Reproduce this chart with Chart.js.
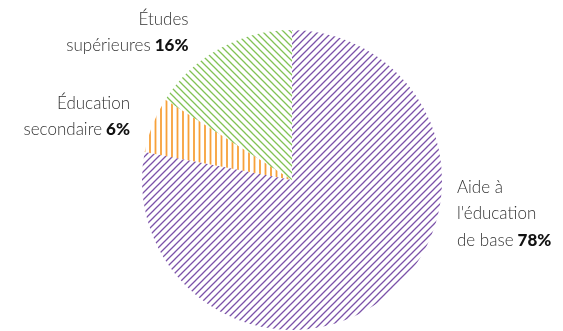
<!DOCTYPE html>
<html>
<head>
<meta charset="utf-8">
<script src="https://cdn.jsdelivr.net/npm/chart.js@4.4.1/dist/chart.umd.min.js"></script>
<style>
    html, body { margin: 0; padding: 0; background: #fff; }
    #wrap { width: 563px; height: 331px; }
</style>
</head>
<body>
<div id="wrap"><canvas id="pieChart"></canvas></div>
<script>
// data
const labelLines = [
    ['Aide à', "l'éducation", 'de base'],
    ['Éducation', 'secondaire'],
    ['Études', 'supérieures']
];
const shares = [78, 6, 16];
const hatchColors = ['#7b52a9', '#f7a13a', '#82c255'];

// hatch tiles
const makePattern = (kind, color) => {
    const c = document.createElement('canvas');
    const s = kind === 'vertical' ? 11 : 7;
    c.width = s;
    c.height = s;
    const g = c.getContext('2d');
    g.strokeStyle = color;
    g.lineCap = 'square';
    if (kind === 'vertical') {
        g.lineWidth = 1.8;
        g.beginPath();
        g.moveTo(1.5, 0); g.lineTo(1.5, s);
        g.moveTo(7, 0); g.lineTo(7, s);
        g.stroke();
    } else {
        g.lineWidth = 1.3;
        g.beginPath();
        if (kind === 'up') {
            g.moveTo(0, s); g.lineTo(s, 0);
            g.moveTo(-1, 1); g.lineTo(1, -1);
            g.moveTo(s - 1, s + 1); g.lineTo(s + 1, s - 1);
        } else {
            g.moveTo(0, 0); g.lineTo(s, s);
            g.moveTo(-1, s - 1); g.lineTo(1, s + 1);
            g.moveTo(s - 1, -1); g.lineTo(s + 1, 1);
        }
        g.stroke();
    }
    return g.createPattern(c, 'repeat');
};

const patterns = [
    makePattern('up', hatchColors[0]),
    makePattern('vertical', hatchColors[1]),
    makePattern('down', hatchColors[2])
];

// label placement around the pie (relative to centre and radius)
const labelSpots = [
    { align: 'left', dx: 1.1, dy: 0.05 },
    { align: 'right', dx: -1.08, dy: -0.51 },
    { align: 'right', dx: -0.69, dy: -1.07 }
];

const sliceLabels = {
    id: 'sliceLabels',
    afterDraw(chart) {
        const ctx = chart.ctx;
        const arc = chart.getDatasetMeta(0).data[0];
        const cx = arc.x, cy = arc.y, r = arc.outerRadius;
        const lh = 26.5;
        const light = '300 17px Lato';
        const heavy = '900 17px Lato';
        ctx.save();
        ctx.textBaseline = 'middle';
        ctx.textAlign = 'left';
        labelLines.forEach((lines, i) => {
            const spot = labelSpots[i];
            const x = cx + spot.dx * r;
            const y0 = cy + spot.dy * r;
            const pct = ' ' + shares[i] + '%';
            lines.forEach((line, j) => {
                const y = y0 + j * lh;
                const last = j === lines.length - 1;
                ctx.font = light;
                const w1 = ctx.measureText(line).width;
                ctx.font = heavy;
                const w2 = last ? ctx.measureText(pct).width : 0;
                const left = spot.align === 'left' ? x : x - w1 - w2;
                ctx.font = light;
                ctx.fillStyle = '#333';
                ctx.fillText(line, left, y);
                if (last) {
                    ctx.font = heavy;
                    ctx.fillStyle = '#111';
                    ctx.fillText(pct, left + w1, y);
                }
            });
        });
        ctx.restore();
    }
};

const dataPie = {
    labels: labelLines.map(l => l.join(' ')),
    datasets: [{
        data: shares,
        backgroundColor: patterns,
        borderWidth: 0
    }]
};

const configPie = {
    type: 'pie',
    data: dataPie,
    options: {
        responsive: true,
        maintainAspectRatio: false,
        animation: false,
        layout: {
            padding: { top: 30, bottom: 1, left: 21, right: 0 }
        },
        plugins: {
            legend: { display: false },
            tooltip: { enabled: false }
        }
    },
    plugins: [sliceLabels]
};

const chartShares = new Chart(
    document.getElementById('pieChart'),
    configPie
);
</script>
</body>
</html>
